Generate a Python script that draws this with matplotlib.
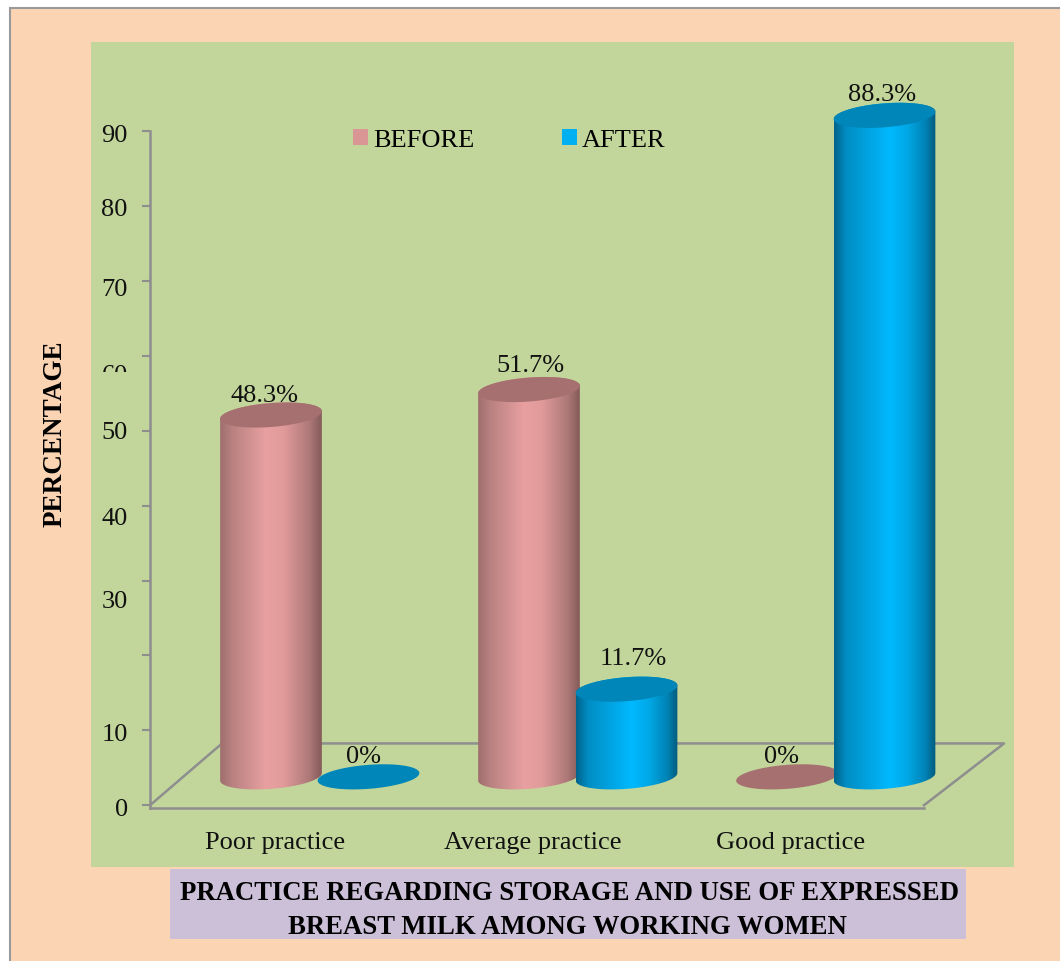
import numpy as np
import matplotlib
matplotlib.use("Agg")
import matplotlib.pyplot as plt
from matplotlib.colors import LinearSegmentedColormap
from matplotlib.patches import Patch, PathPatch, Polygon, Rectangle
from matplotlib.path import Path
from matplotlib.transforms import Bbox

categories = ["Poor practice", "Average practice", "Good practice"]
before = [48.3, 51.7, 0]
after = [0, 11.7, 88.3]
series_names = ["BEFORE", "AFTER"]
y_ticks = [0, 10, 20, 30, 40, 50, 60, 70, 80, 90]
y_labels = ["0", "10", "30", "40", "50", "60", "70", "80", "90"]
y_label_pos = [-0.3, 9.7, 27.5, 38.6, 50.0, 57.6, 69.1, 79.8, 89.6]   # labels sit off their ticks

W, H = 1060, 961
plt.rcParams["font.family"] = ["Liberation Serif", "DejaVu Serif"]

GREY = "#8e8e8e"
PEACH = "#FBD4B4"
GREEN = "#C2D69B"
LAVENDER = "#CCC0D9"

# pixel scale of the axes, used for the cylinder shape
PX_X = 258.0
PX_Y = 676.5 / 90.0
BASE = 28.5 / PX_Y     # cylinders stand on the floor, above the front edge
RX, RY, TILT = 51.0, 12.0, np.radians(4.5)


def fig_box(x0, y0, x1, y1, **kw):
    # rectangle on the figure given in pixels from the top left corner
    r = Rectangle((x0 / W, 1 - y1 / H), (x1 - x0) / W, (y1 - y0) / H,
                  transform=fig.transFigure, zorder=-5, **kw)
    fig.add_artist(r)
    return r


def rim(cx, cy, t):
    # points on the tilted ellipse, converted to data units
    px = RX * np.cos(t) * np.cos(TILT) - RY * np.sin(t) * np.sin(TILT)
    py = RX * np.cos(t) * np.sin(TILT) + RY * np.sin(t) * np.cos(TILT)
    return np.column_stack([cx + px / PX_X, cy + py / PX_Y])


def cylinder(ax, cx, value, cmap, top_color, z):
    top = BASE + value
    if value > 0:
        low = rim(cx, BASE, np.linspace(np.pi, 2 * np.pi, 60))
        up = rim(cx, top, np.linspace(0, np.pi, 60))
        body = Path(np.vstack([low, up, low[:1]]), closed=False)
        clip = PathPatch(body, transform=ax.transData, fc="none", ec="none")
        ax.add_patch(clip)
        x0, x1 = cx - RX / PX_X, cx + RX / PX_X
        im = ax.imshow(np.linspace(0, 1, 256).reshape(1, -1), cmap=cmap, aspect="auto",
                       extent=(x0, x1, BASE - 3, top + 3), zorder=z, interpolation="bilinear")
        im.set_clip_path(clip)
        im.set_clip_box(fig.bbox)   # tall bars run past the axes box
    disc = rim(cx, top, np.linspace(0, 2 * np.pi, 120))
    ax.add_patch(Polygon(disc, closed=True, fc=top_color, ec="none", zorder=z + 0.1, clip_on=False))


fig = plt.figure(figsize=(W / 100, H / 100), dpi=100, facecolor="white")

# page, plot panel and caption band
fig_box(9.5, 7.5, W + 20, H + 20, fc=PEACH, ec="#9a9a9a", lw=1.5)
fig_box(91, 42, 1014, 867, fc=GREEN, ec="none")
fig_box(170, 869, 966, 939, fc=LAVENDER, ec="none")

ax = fig.add_axes([150 / W, 1 - 807.5 / H, 774 / W, 676.5 / H])
ax.patch.set_alpha(0)

pink_map = LinearSegmentedColormap.from_list("pink", [(0, "#a06e6e"), (0.12, "#b98181"), (0.45, "#e8a0a0"),
                                                      (0.62, "#e29b9b"), (0.88, "#ad7878"), (1, "#855a5a")])
blue_map = LinearSegmentedColormap.from_list("blue", [(0, "#00648a"), (0.12, "#008dc4"), (0.55, "#00b9ff"),
                                                      (0.72, "#00a8e6"), (0.9, "#0082b4"), (1, "#005a7c")])

# back edges of the floor
ax.plot([-0.4845, -0.4845 + 72 / PX_X, 2.5155 + 80 / PX_X, 2.5155],
        [0, 62 / PX_Y, 62 / PX_Y, 0], color=GREY, lw=1.8, clip_on=False, zorder=1)

off_before, off_after = -4 / PX_X, 93.5 / PX_X
label_px = [(-7, 19), (1, 24), (-6, 20)]
label_px2 = [(-5, 20), (7, 30), (-2, 20)]
for i in range(3):
    cylinder(ax, i + off_before, before[i], pink_map, "#A67070", 3 + i * 2)
    cylinder(ax, i + off_after, after[i], blue_map, "#0086B8", 4 + i * 2)
    ax.annotate(f"{before[i]:g}%", (i + off_before, BASE + before[i]), xytext=label_px[i],
                textcoords="offset pixels", ha="center", va="center", fontsize=19, zorder=20,
                color="#111111", annotation_clip=False)
    ax.annotate(f"{after[i]:g}%", (i + off_after, BASE + after[i]), xytext=label_px2[i],
                textcoords="offset pixels", ha="center", va="center", fontsize=19, zorder=20,
                color="#111111", annotation_clip=False)

ax.set_xlim(-0.4845, 2.5155)
ax.set_ylim(0, 90)

for s in ("top", "right"):
    ax.spines[s].set_visible(False)
for s in ("left", "bottom"):
    ax.spines[s].set_color(GREY)
    ax.spines[s].set_linewidth(1.8)
    ax.spines[s].set_zorder(2)

ax.set_xticks(range(3), categories, fontsize=19, color="#111111")
ax.tick_params(axis="x", length=0, pad=18)
ax.yaxis.remove_overlapping_locs = False   # the label for 50 lands on its tick
ax.set_yticks(y_ticks, [""] * len(y_ticks))
ax.tick_params(axis="y", which="major", length=6, width=1.5, color=GREY)
ax.set_yticks(y_label_pos, y_labels, minor=True, fontsize=19, color="#111111")
ax.tick_params(axis="y", which="minor", length=0, pad=16)

# the 60 is cut off just under the top of its digits
label_60 = ax.yaxis.get_minor_ticks()[y_labels.index("60")].label1
label_60.set_clip_box(Bbox([[91, H - 372], [150, H - 300]]))
label_60.set_clip_on(True)

handles = [Patch(fc="#D99694", ec="none"), Patch(fc="#00B0F0", ec="none")]
ax.legend(handles, series_names, ncol=2, frameon=False, fontsize=19, loc="center left",
          bbox_to_anchor=((345 - 150) / 774, 1 - (140.5 - 131) / 676), handlelength=0.57, handleheight=0.55,
          handletextpad=0.19, columnspacing=3.33, borderaxespad=0, borderpad=0.3)

fig.text(55 / W, 1 - 434 / H, "PERCENTAGE", rotation=90, ha="center", va="center",
         fontsize=19.5, fontweight="bold", color="black")
fig.text(569 / W, 1 - 894 / H, "PRACTICE REGARDING STORAGE AND USE OF EXPRESSED",
         ha="center", va="center", fontsize=19.3, fontweight="bold", color="black")
fig.text(567 / W, 1 - 928 / H, "BREAST MILK AMONG WORKING WOMEN",
         ha="center", va="center", fontsize=19.3, fontweight="bold", color="black")

fig.savefig("out.png", dpi=100, facecolor=fig.get_facecolor())
